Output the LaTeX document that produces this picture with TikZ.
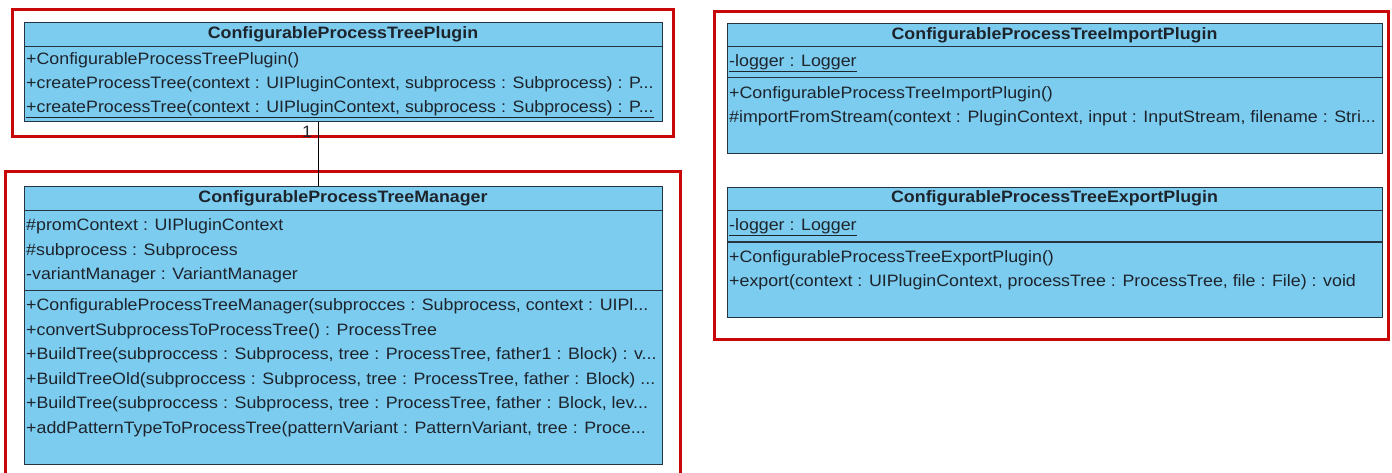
\documentclass[tikz,border=0pt]{standalone}
\usepackage{fontspec}
\setmainfont{Liberation Sans}[FakeStretch=1.08]
\definecolor{classfill}{RGB}{124,204,240}
\definecolor{classline}{RGB}{38,52,66}
\definecolor{framered}{RGB}{200,8,8}
\definecolor{txt}{RGB}{30,36,44}
\tikzset{
  frame/.style={draw=framered, line width=3pt},
  classbox/.style={draw=classline, fill=classfill, line width=1.4pt, anchor=north west, inner sep=0pt},
  sep/.style={draw=classline, line width=1.3pt},
  title/.style={font=\fontsize{16.5}{18}\selectfont\bfseries, text=txt, inner sep=0pt},
  member/.style={font=\fontsize{16.5}{18}\selectfont, text=txt, anchor=west, inner sep=0pt},
  assoc/.style={draw=black, line width=1pt},
}
\begin{document}
\begin{tikzpicture}[x=1pt,y=-1pt]
\useasboundingbox[fill=white] (0,0) rectangle (1392,472);

% grouping frames
\draw[frame] (12,9.5) rectangle (673,136);
\draw[frame] (5.5,171.5) rectangle (680,490);
\draw[frame] (714,11.5) rectangle (1388,339);

% ConfigurableProcessTreePlugin
\node[classbox, minimum width=638pt, minimum height=99pt] (plugin) at (24,22) {};
\draw[sep] (24,46.5) -- (662,46.5);
\node[title] (pluginT) at (343,34.5) {ConfigurableProcessTreePlugin};
\node[member] (pluginO1) at (26,60) {+ConfigurableProcessTreePlugin()};
\node[member] (pluginO2) at (26,84.5) {+createProcessTree(context : UIPluginContext, subprocess : Subprocess) : P...};
\node[member] (pluginO3) at (26,109) {\underline{+createProcessTree(context : UIPluginContext, subprocess : Subprocess) : P...}};

% ConfigurableProcessTreeManager
\node[classbox, minimum width=638pt, minimum height=278pt] (manager) at (24,186) {};
\draw[sep] (24,210.5) -- (662,210.5);
\draw[sep] (24,290.5) -- (662,290.5);
\node[title] (managerT) at (343,198.5) {ConfigurableProcessTreeManager};
\node[member] (managerA1) at (26,226.5) {\#promContext : UIPluginContext};
\node[member] (managerA2) at (26,251) {\#subprocess : Subprocess};
\node[member] (managerA3) at (26,275.5) {-variantManager : VariantManager};
\node[member] (managerO1) at (26,306.5) {+ConfigurableProcessTreeManager(subprocces : Subprocess, context : UIPl...};
\node[member] (managerO2) at (26,331) {+convertSubprocessToProcessTree() : ProcessTree};
\node[member] (managerO3) at (26,355.5) {+BuildTree(subproccess : Subprocess, tree : ProcessTree, father1 : Block) : v...};
\node[member] (managerO4) at (26,380) {+BuildTreeOld(subproccess : Subprocess, tree : ProcessTree, father : Block) ...};
\node[member] (managerO5) at (26,404.5) {+BuildTree(subproccess : Subprocess, tree : ProcessTree, father : Block, lev...};
\node[member] (managerO6) at (26,429) {+addPatternTypeToProcessTree(patternVariant : PatternVariant, tree : Proce...};

% association between plugin and manager
\coordinate (linkx) at (318,0);
\draw[assoc] (plugin.south -| linkx) -- (manager.north -| linkx);
\node[member, anchor=center] (mult) at (307,132) {1};

% ConfigurableProcessTreeImportPlugin
\node[classbox, minimum width=655pt, minimum height=130pt] (import) at (727,23) {};
\draw[sep] (727,46.5) -- (1382,46.5);
\draw[sep] (727,77.5) -- (1382,77.5);
\node[title] (importT) at (1054.5,35) {ConfigurableProcessTreeImportPlugin};
\node[member] (importA1) at (729,63) {\underline{-logger : Logger}};
\node[member] (importO1) at (729,94) {+ConfigurableProcessTreeImportPlugin()};
\node[member] (importO2) at (729,118.5) {\#importFromStream(context : PluginContext, input : InputStream, filename : Stri...};

% ConfigurableProcessTreeExportPlugin
\node[classbox, minimum width=655pt, minimum height=130pt] (export) at (727,186.5) {};
\draw[sep] (727,210.5) -- (1382,210.5);
\draw[sep] (727,242) -- (1382,242);
\node[title] (exportT) at (1054.5,198.5) {ConfigurableProcessTreeExportPlugin};
\node[member] (exportA1) at (729,227) {\underline{-logger : Logger}};
\node[member] (exportO1) at (729,258) {+ConfigurableProcessTreeExportPlugin()};
\node[member] (exportO2) at (729,282.5) {+export(context : UIPluginContext, processTree : ProcessTree, file : File) : void};
\end{tikzpicture}
\end{document}
